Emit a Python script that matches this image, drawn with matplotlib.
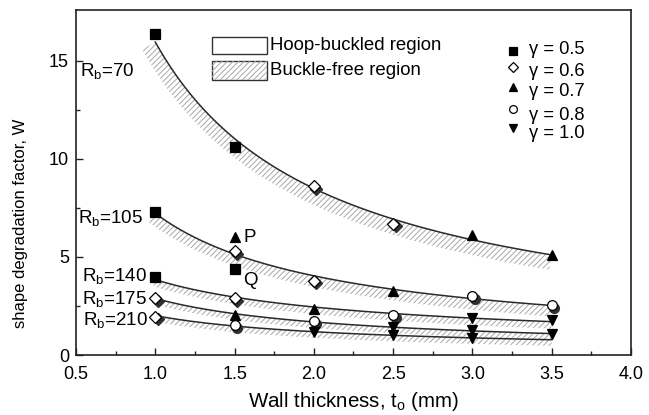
import numpy as np
import matplotlib
matplotlib.use("Agg")
import matplotlib.pyplot as plt
from matplotlib import transforms
from matplotlib.patches import Rectangle

plt.rcParams["font.family"] = ["Liberation Sans", "DejaVu Sans"]
plt.rcParams["mathtext.fontset"] = "custom"
plt.rcParams["mathtext.rm"] = "Liberation Sans"
plt.rcParams["mathtext.it"] = "Liberation Sans:italic"
plt.rcParams["hatch.linewidth"] = 0.7

# Wall thickness t_o (mm)
thickness = [1.0, 1.5, 2.0, 2.5, 3.0, 3.5]

# Shape degradation factor W for each bend radius R_b, with the gamma of each test
W_rb70 = [16.4, 10.6, 8.6, 6.7, 6.1, 5.1]
g_rb70 = [0.5, 0.5, 0.6, 0.6, 0.7, 0.7]
W_rb105 = [7.3, 5.3, 3.8, 3.25, 3.0, 2.55]
g_rb105 = [0.5, 0.6, 0.6, 0.7, 0.8, 0.8]
W_rb140 = [4.0, 2.9, 2.35, 2.04, 1.89, 1.79]
g_rb140 = [0.5, 0.6, 0.7, 0.8, 1.0, 1.0]
W_rb175 = [2.9, 2.05, 1.72, 1.42, 1.28, 1.05]
g_rb175 = [0.6, 0.7, 0.8, 1.0, 1.0, 1.0]
W_rb210 = [1.96, 1.53, 1.19, 1.02, 0.85]
g_rb210 = [0.6, 0.8, 1.0, 1.0, 1.0]

bend_radii = [70, 105, 140, 175, 210]
series_W = [W_rb70, W_rb105, W_rb140, W_rb175, W_rb210]
series_g = [g_rb70, g_rb105, g_rb140, g_rb175, g_rb210]

# Extra tests P and Q at t_o = 1.5 mm
extra_labels = ["P", "Q"]
extra_t = [1.5, 1.5]
extra_W = [6.0, 4.4]
extra_g = [0.7, 0.5]

gammas = [0.5, 0.6, 0.7, 0.8, 1.0]
gamma_labels = ["\u03b3 = 0.5", "\u03b3 = 0.6", "\u03b3 = 0.7", "\u03b3 = 0.8", "\u03b3 = 1.0"]

x_ticks = [0.5, 1.0, 1.5, 2.0, 2.5, 3.0, 3.5, 4.0]
y_ticks = [0, 5, 10, 15]

# Marker look per gamma
marker_style = {
    0.5: dict(marker="s", mfc="black", ms=6.5, open=False),
    0.6: dict(marker="D", mfc="white", ms=6.0, open=True),
    0.7: dict(marker="^", mfc="black", ms=7.5, open=False),
    0.8: dict(marker="o", mfc="white", ms=7.0, open=True),
    1.0: dict(marker="v", mfc="black", ms=7.5, open=False),
}
# Width (pixels) of the hatched buckle-free band under each fitted curve
band_width = [15, 11, 7, 6, 6]
label_pos = [(0.525, 14.5), (0.515, 7.0), (0.535, 4.05), (0.535, 2.85), (0.545, 1.8)]

fig = plt.figure(figsize=(6.49, 4.15), dpi=100)
ax = fig.add_axes([76 / 649, 1 - 355 / 415, 555 / 649, 345 / 415])
ax.set_xlim(0.5, 4.0)
ax.set_ylim(0, 17.6)

hatch_kw = dict(facecolor="none", edgecolor="#a8a8a8", linewidth=0, hatch="//////")

for rb, Ws, w_px, (lx, ly) in zip(bend_radii, series_W, band_width, label_pos):
    t = np.array(thickness[:len(Ws)])
    b, loga = np.polyfit(np.log(t), np.log(Ws), 1)
    xs = np.linspace(1.0, 3.5, 300)
    ys = np.exp(loga) * xs ** b

    # hatched band offset perpendicular to the curve (in display space)
    disp = ax.transData.transform(np.c_[xs, ys])
    tx = np.gradient(disp[:, 0])
    ty = np.gradient(disp[:, 1])
    n = np.hypot(tx, ty)
    nx, ny = ty / n, -tx / n
    off = disp + w_px * np.c_[nx, ny]
    off_data = ax.transData.inverted().transform(off)
    poly_x = np.concatenate([xs, off_data[::-1, 0]])
    poly_y = np.concatenate([ys, off_data[::-1, 1]])
    ax.fill(poly_x, poly_y, zorder=1, **hatch_kw)

    ax.plot(xs, ys, color="#2a2a2a", lw=1.1, zorder=2)
    ax.text(lx, ly, r"R$_\mathrm{b}$=%d" % rb, fontsize=13.5, ha="left", va="center")

shadow = transforms.offset_copy(ax.transData, fig=fig, x=2.5, y=-2.5, units="dots")


def draw_point(t, w, g):
    st = marker_style[g]
    if st["open"]:
        ax.plot([t], [w], marker=st["marker"], ms=st["ms"], mfc="#303030", mec="#303030",
                ls="none", transform=shadow, zorder=3)
    ax.plot([t], [w], marker=st["marker"], ms=st["ms"], mfc=st["mfc"], mec="black",
            mew=0.9, ls="none", zorder=4)


for Ws, gs in zip(series_W, series_g):
    for t, w, g in zip(thickness, Ws, gs):
        draw_point(t, w, g)

for lab, t, w, g in zip(extra_labels, extra_t, extra_W, extra_g):
    draw_point(t, w, g)
    dy = 0.0 if lab == "P" else -0.6
    ax.text(t + 0.055, w + dy, lab, fontsize=13.5, ha="left", va="center")

# Region key
ax.add_patch(Rectangle((0.245, 0.872), 0.099, 0.049, transform=ax.transAxes,
                       facecolor="white", edgecolor="#333333", lw=1.0, zorder=5))
ax.add_patch(Rectangle((0.245, 0.797), 0.099, 0.055, transform=ax.transAxes,
                       facecolor="white", edgecolor="#333333", lw=1.0, zorder=5))
ax.add_patch(Rectangle((0.245, 0.797), 0.099, 0.055, transform=ax.transAxes,
                       zorder=6, **hatch_kw))
ax.text(0.350, 0.897, "Hoop-buckled region", transform=ax.transAxes, fontsize=13.4,
        ha="left", va="center")
ax.text(0.350, 0.826, "Buckle-free region", transform=ax.transAxes, fontsize=13.4,
        ha="left", va="center")

# Gamma key
key_marker_y = [51, 67, 87, 109, 128]
key_text_y = [50, 71, 92, 115, 133]
for g, lab, my, ty_ in zip(gammas, gamma_labels, key_marker_y, key_text_y):
    st = marker_style[g]
    ax.plot([0.787], [(355 - my) / 345], transform=ax.transAxes, marker=st["marker"],
            ms=st["ms"] * 0.8, mfc=st["mfc"], mec="black", mew=0.9, ls="none",
            clip_on=False)
    ax.text(0.816, (355 - ty_) / 345, lab, transform=ax.transAxes, fontsize=13.2,
            ha="left", va="center")

ax.set_xticks(x_ticks)
ax.set_xticklabels(["%.1f" % v for v in x_ticks])
ax.set_yticks(y_ticks)
ax.set_xticks(np.arange(0.75, 4.0, 0.5), minor=True)
ax.set_yticks([2.5, 7.5, 12.5], minor=True)
ax.tick_params(which="both", direction="in", labelsize=13, width=1.0, color="#222222")
ax.tick_params(which="major", length=5)
ax.tick_params(which="minor", length=3)
ax.tick_params(axis="x", pad=8)
ax.tick_params(axis="y", pad=5)
for sp in ax.spines.values():
    sp.set_linewidth(1.2)
    sp.set_color("#222222")

ax.set_xlabel(r"Wall thickness, t$_\mathrm{o}$ (mm)", fontsize=14.8, labelpad=5)
ax.set_ylabel("shape degradation factor, W", fontsize=12)
ax.yaxis.set_label_coords(-0.087, 0.383)

fig.savefig("out.png", dpi=100)
